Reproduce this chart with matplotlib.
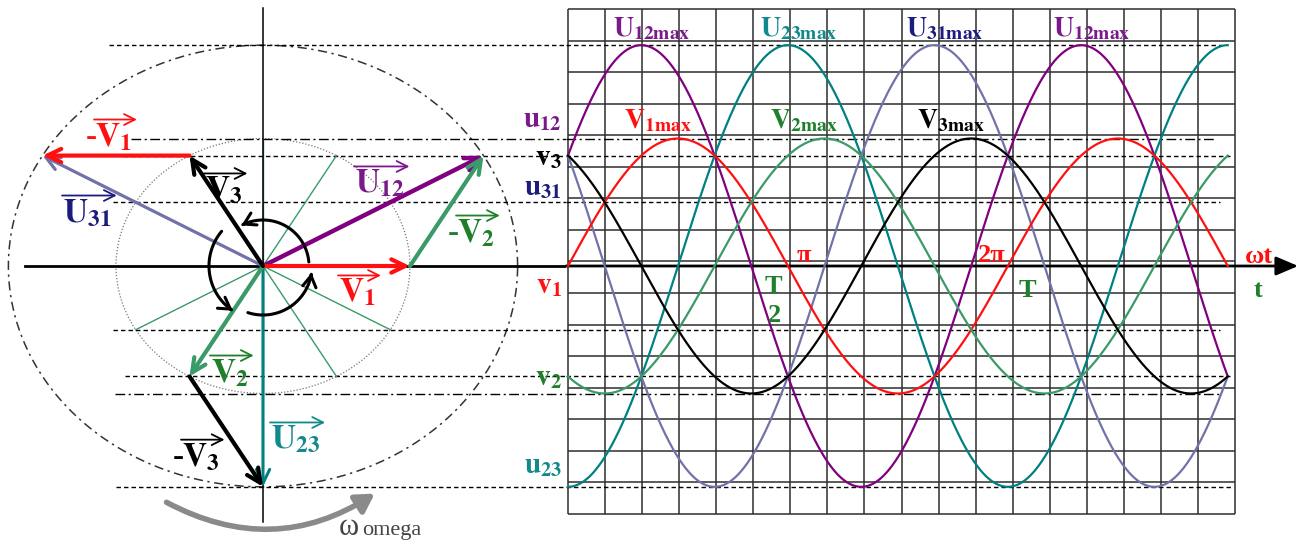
import numpy as np
import matplotlib
matplotlib.use("Agg")
import matplotlib.pyplot as plt
from matplotlib.patches import FancyArrowPatch
from matplotlib.path import Path

plt.rcParams['mathtext.fontset'] = 'stix'
plt.rcParams['font.family'] = ['Liberation Serif', 'DejaVu Serif']

# ---------------- three-phase system ----------------
phase_names = ['V1', 'V2', 'V3']
phase_angles_deg = [0, -120, 120]
line_names = ['U12', 'U23', 'U31']
line_angles_deg = [30, -90, 150]
V_MAX = 1.0
U_MAX = np.sqrt(3)
WT_END = 3 * np.pi

# colours
RED = '#ff1010'
GREEN = '#3a9a68'
GREEN_TXT = '#1f7f2a'
BLACK = '#000000'
PURPLE = '#800080'
PURPLE_TXT = '#7a1a8a'
TEAL = '#008080'
TEAL_TXT = '#12898c'
LAV = '#7272aa'
NAVY_TXT = '#1c1c7e'

phase_colors = [RED, GREEN, BLACK]
phase_txt_colors = [RED, GREEN_TXT, BLACK]
line_colors = [PURPLE, TEAL, LAV]
line_txt_colors = [PURPLE_TXT, TEAL_TXT, NAVY_TXT]

# horizontal guide levels (shared by phasor diagram and time chart)
level_values = [U_MAX, V_MAX, np.sqrt(3) / 2, 0.5, -0.5, -np.sqrt(3) / 2, -V_MAX, -U_MAX]
level_dashdot = [False, True, False, False, False, False, True, False]
level_left_start = [-1.05, -0.90, -0.95, -1.02, -1.02, -0.94, -1.01, -1.00]
level_right_end = [9.34, 9.24, 9.46, 9.31, 9.31, 9.46, 9.34, 9.50]

# instantaneous-value labels at ωt = 0
inst_labels = [r'$\mathbf{u}_{\mathbf{12}}$', r'$\mathbf{v}_{\mathbf{3}}$', r'$\mathbf{u}_{\mathbf{31}}$',
               r'$\mathbf{v}_{\mathbf{1}}$', r'$\mathbf{v}_{\mathbf{2}}$', r'$\mathbf{u}_{\mathbf{23}}$']
inst_label_y = [1.09, 0.79, 0.557, -0.212, -0.933, -1.624]
inst_label_colors = [PURPLE_TXT, BLACK, NAVY_TXT, RED, GREEN_TXT, TEAL_TXT]

# time chart grid
GRID_COLS, GRID_ROWS = 18, 16
GRID_X_MAX = 9.529
GRID_Y_TOP, GRID_Y_BOTTOM = 2.016, -1.945

# ---------------- figure layout ----------------
W, H = 1303, 545
fig = plt.figure(figsize=(W / 100, H / 100), dpi=100)
Y_PX, Y0 = 127.5, 266          # vertical scale (px per unit) and zero line
XL_PX, XL0 = 147.0, 263        # phasor panel horizontal scale and origin
XR_PX, XR0 = 70.0, 568         # time chart px per radian and origin
SPLIT = 566

ylim = ((Y0 - H) / Y_PX, Y0 / Y_PX)
axL = fig.add_axes([0, 0, SPLIT / W, 1])
axR = fig.add_axes([SPLIT / W, 0, (W - SPLIT) / W, 1])
axL.set_xlim(-XL0 / XL_PX, (SPLIT - XL0) / XL_PX)
axR.set_xlim((SPLIT - XR0) / XR_PX, (W - XR0) / XR_PX)
for ax in (axL, axR):
    ax.set_ylim(*ylim)
    ax.axis('off')
xlL = axL.get_xlim()
xlR = axR.get_xlim()

DASH = (0, (3.2, 2.2))
DASHDOT = (0, (7, 2.5, 1.5, 2.5))

# guide levels
for val, dd, x0, x1 in zip(level_values, level_dashdot, level_left_start, level_right_end):
    ls = DASHDOT if dd else DASH
    axL.plot([x0, xlL[1]], [val, val], color='k', lw=1.0, ls=ls, zorder=2)
    axR.plot([xlR[0], x1], [val, val], color='k', lw=1.0, ls=ls, zorder=2)

# ---------------- phasor diagram ----------------
th = np.linspace(0, 2 * np.pi, 400)
axL.plot(V_MAX * np.cos(th), V_MAX * np.sin(th), color='#777777', lw=0.9, ls=(0, (1, 1.5)), zorder=1)
axL.plot(U_MAX * np.cos(th), U_MAX * np.sin(th), color='#333333', lw=1.1,
         ls=(0, (6, 3, 1.5, 3)), zorder=1)

# axes of the diagram
axL.plot([-1.62, xlL[1]], [0, 0], color='k', lw=2.0, zorder=3)
axL.plot([0, 0], [-2.01, 2.02], color='k', lw=1.1, zorder=3)

# 30-degree spokes
for a in np.deg2rad(np.arange(0, 360, 30)):
    axL.plot([0, V_MAX * np.cos(a)], [0, V_MAX * np.sin(a)], color=GREEN, lw=1.0, zorder=2)

ph = {n: V_MAX * np.array([np.cos(np.deg2rad(d)), np.sin(np.deg2rad(d))])
      for n, d in zip(phase_names, phase_angles_deg)}
origin = np.zeros(2)


def vec(ax, p0, p1, color, lw, z=5):
    ax.annotate('', xy=tuple(p1), xytext=tuple(p0),
                arrowprops=dict(arrowstyle='->,head_length=0.5,head_width=0.24', lw=lw,
                                color=color, shrinkA=0, shrinkB=0, mutation_scale=20),
                zorder=z, annotation_clip=False)


vec(axL, origin, ph['V3'] - ph['V1'], LAV, 2.3, 4)
vec(axL, origin, ph['V2'] - ph['V3'], TEAL, 2.2, 4)
vec(axL, origin, ph['V1'] - ph['V2'], PURPLE, 3.2, 5)
vec(axL, origin, ph['V1'], RED, 3.0, 5)
vec(axL, origin, ph['V2'], GREEN, 3.0, 5)
vec(axL, origin, ph['V3'], BLACK, 3.0, 5)
vec(axL, ph['V3'], ph['V3'] - ph['V1'], RED, 3.0, 5)
vec(axL, ph['V1'], ph['V1'] - ph['V2'], GREEN, 3.0, 5)
vec(axL, ph['V2'], ph['V2'] - ph['V3'], BLACK, 3.0, 5)

# rotation arcs around the origin (radius given in px)
for a0, a1, r in [(5, 118, 46), (140, 236, 54), (252, 352, 49)]:
    t = np.deg2rad(np.linspace(a0, a1, 60))
    verts = np.column_stack([r / XL_PX * np.cos(t), r / Y_PX * np.sin(t)])
    arc = FancyArrowPatch(path=Path(verts), arrowstyle='->,head_length=0.5,head_width=0.3',
                          lw=2.2, color='k', mutation_scale=16, zorder=6)
    axL.add_patch(arc)

# direction of rotation
om = FancyArrowPatch((-0.673, -1.843), (0.776, -1.773), connectionstyle='arc3,rad=0.3',
                     arrowstyle='-|>,head_length=0.6,head_width=0.35', lw=4, color='#8a8a8a',
                     mutation_scale=18, zorder=4, clip_on=False)
axL.add_patch(om)
axL.text(0.517, -2.11, 'ω', fontsize=22, color='#444444', ha='left', va='baseline')
axL.text(0.673, -2.11, 'omega', fontsize=16, color='#444444', ha='left', va='baseline')

# vector labels: (minus sign?, text, x, baseline, colour)
vec_labels = [
    (True, r'$\mathbf{V}_{\mathbf{1}}$', -1.143, 0.941, RED),
    (False, r'$\mathbf{V}_{\mathbf{3}}$', -0.395, 0.518, BLACK),
    (False, r'$\mathbf{U}_{\mathbf{31}}$', -1.36, 0.345, NAVY_TXT),
    (False, r'$\mathbf{U}_{\mathbf{12}}$', 0.626, 0.573, PURPLE_TXT),
    (True, r'$\mathbf{V}_{\mathbf{2}}$', 1.32, 0.188, GREEN_TXT),
    (False, r'$\mathbf{V}_{\mathbf{1}}$', 0.517, -0.282, RED),
    (False, r'$\mathbf{V}_{\mathbf{2}}$', -0.354, -0.91, GREEN_TXT),
    (False, r'$\mathbf{U}_{\mathbf{23}}$', 0.054, -1.435, TEAL_TXT),
    (True, r'$\mathbf{V}_{\mathbf{3}}$', -0.551, -1.57, BLACK),
]
vec_texts = []
for neg, s, x, y, c in vec_labels:
    t = axL.text(x, y, s, fontsize=24, color=c, ha='left', va='baseline', zorder=7)
    if neg:
        axL.text(x + 0.01, y, '-', fontsize=24, color=c, ha='right', va='baseline',
                 fontweight='bold', zorder=7)
    vec_texts.append((t, c))

for s, y, c in zip(inst_labels, inst_label_y, inst_label_colors):
    axL.text(2.034, y, s, fontsize=21, color=c, ha='right', va='baseline', zorder=7)

# ---------------- time chart ----------------
gx = np.linspace(0, GRID_X_MAX, GRID_COLS + 1)
gy = np.linspace(GRID_Y_BOTTOM, GRID_Y_TOP, GRID_ROWS + 1)
axR.vlines(gx, GRID_Y_BOTTOM, GRID_Y_TOP, color='#2e2e2e', lw=1.1, zorder=1)
axR.hlines(gy, 0, GRID_X_MAX, color='#2e2e2e', lw=1.1, zorder=1)

axR.annotate('', xy=(10.43, 0), xytext=(xlR[0], 0),
             arrowprops=dict(arrowstyle='-|>,head_length=0.75,head_width=0.32', lw=2.0,
                             color='k', shrinkA=0, shrinkB=0, mutation_scale=18),
             zorder=3, annotation_clip=False)

wt = np.linspace(0, WT_END, 800)
for d, c in zip(line_angles_deg, line_colors):
    axR.plot(wt, U_MAX * np.sin(wt + np.deg2rad(d)), color=c, lw=1.6, zorder=4)
for d, c in zip(phase_angles_deg, phase_colors):
    axR.plot(wt, V_MAX * np.sin(wt + np.deg2rad(d)), color=c, lw=1.6, zorder=4)

# peak labels
for n, d, c in zip(phase_names, phase_angles_deg, phase_txt_colors):
    pk = (np.pi / 2 - np.deg2rad(d)) % (2 * np.pi)
    axR.text(pk - 0.29, 1.082, r'$\mathbf{%s}_{\mathbf{%smax}}$' % (n[0], n[1:]),
             fontsize=20, color=c, ha='center', va='baseline', zorder=6)
for n, d, c in zip(line_names, line_angles_deg, line_txt_colors):
    pk = (np.pi / 2 - np.deg2rad(d)) % (2 * np.pi)
    peaks = [pk] + ([pk + 2 * np.pi] if pk + 2 * np.pi < WT_END - np.pi / 2 else [])
    for p in peaks:
        axR.text(p + 0.15, 1.804, r'$\mathbf{%s}_{\mathbf{%smax}}$' % (n[0], n[1:]),
                 fontsize=20, color=c, ha='center', va='baseline', zorder=6)

# axis annotations
bold = dict(fontweight='bold', va='baseline', zorder=6)
axR.text(np.pi + 0.12, 0.031, 'π', fontsize=19, color=RED, ha='left', **bold)
axR.text(2 * np.pi - 0.03, 0.031, '2π', fontsize=19, color=RED, ha='right', **bold)
axR.text(9.67, 0.024, 'ωt', fontsize=19, color=RED, ha='left', **bold)
axR.text(9.79, -0.243, 't', fontsize=19, color=GREEN_TXT, ha='left', **bold)
axR.text(2 * np.pi + 0.15, -0.243, 'T', fontsize=19, color=GREEN_TXT, ha='left', **bold)
axR.text(np.pi - 0.33, -0.212, 'T', fontsize=19, color=GREEN_TXT, ha='left', **bold)
axR.text(np.pi - 0.29, -0.44, '2', fontsize=19, color=GREEN_TXT, ha='left', **bold)

# vector arrows over the phasor labels
fig.canvas.draw()
rend = fig.canvas.get_renderer()
for t, c in vec_texts:
    bb = t.get_window_extent(rend)
    y = bb.y1 + 2
    axL.annotate('', xy=(bb.x1 + 5, y), xytext=(bb.x0 - 1, y),
                 xycoords='figure pixels', textcoords='figure pixels',
                 arrowprops=dict(arrowstyle='->,head_length=0.6,head_width=0.3', lw=1.3,
                                 color=c, shrinkA=0, shrinkB=0, mutation_scale=13),
                 annotation_clip=False, zorder=7)

fig.savefig('out.png', dpi=100)
